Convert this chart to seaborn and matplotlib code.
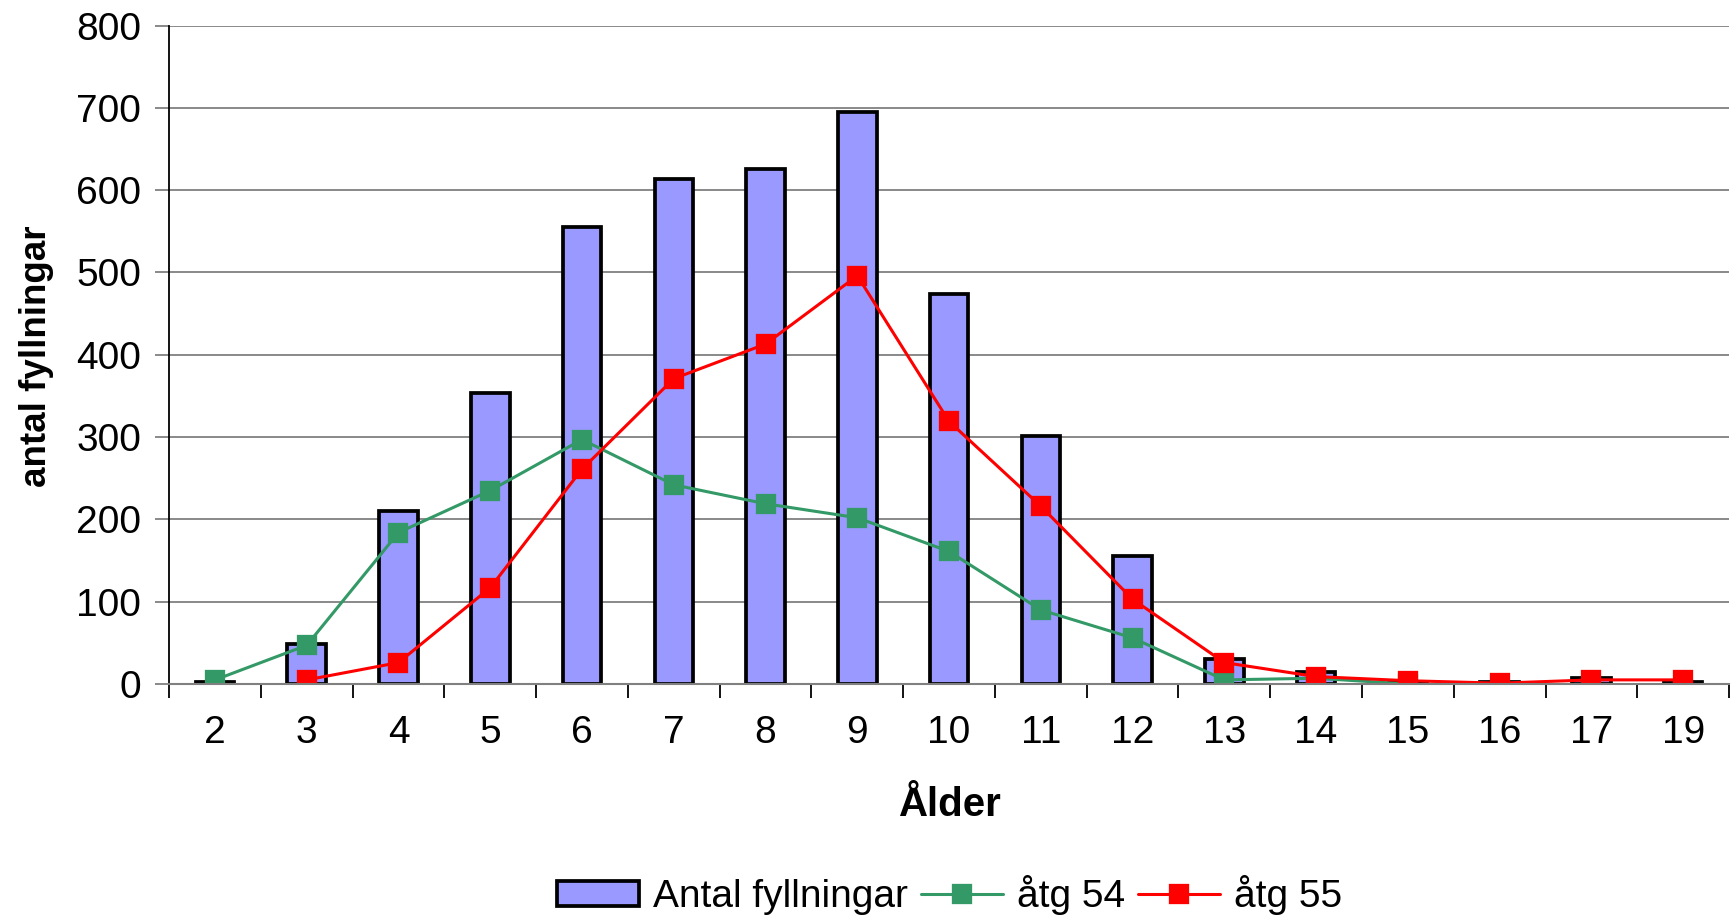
import matplotlib
matplotlib.use("Agg")
import matplotlib.pyplot as plt
import seaborn as sns
import pandas as pd

ages = ["2", "3", "4", "5", "6", "7", "8", "9", "10", "11", "12", "13", "14", "15", "16", "17", "19"]
antal = [3, 48, 210, 353, 555, 614, 626, 695, 474, 301, 156, 30, 14, 3, 3, 7, 3]
atg54_ages = ["2", "3", "4", "5", "6", "7", "8", "9", "10", "11", "12", "13", "14", "15"]
atg54 = [5, 47, 184, 235, 297, 242, 219, 202, 161, 90, 56, 5, 7, 0]
atg55_ages = ["3", "4", "5", "6", "7", "8", "9", "10", "11", "12", "13", "14", "15", "16", "17", "19"]
atg55 = [5, 26, 117, 261, 371, 413, 496, 319, 216, 103, 26, 9, 4, 1, 5, 5]
yticks = [0, 100, 200, 300, 400, 500, 600, 700, 800]

sns.set_theme(style="white")
plt.rcParams['font.family'] = ['Liberation Sans', 'DejaVu Sans']
plt.rcParams['text.color'] = 'black'
plt.rcParams['axes.labelcolor'] = 'black'
plt.rcParams['xtick.color'] = 'black'
plt.rcParams['ytick.color'] = 'black'

fig = plt.figure(figsize=(17.36, 9.18), dpi=100)
ax = fig.add_axes([0.0974, 0.2549, 0.8986, 0.7173])

df_bar = pd.DataFrame({"age": ages, "n": antal})
df54 = pd.DataFrame({"age": atg54_ages, "v": atg54})
df55 = pd.DataFrame({"age": atg55_ages, "v": atg55})

sns.barplot(data=df_bar, x="age", y="n", order=ages, color="#9999FF", saturation=1,
            width=0.42, edgecolor="black", linewidth=2.7, ax=ax, label="Antal fyllningar", zorder=2)
sns.pointplot(data=df54, x="age", y="v", order=ages, color="#339966", markers="s",
              markersize=13.5, linewidth=2.2, errorbar=None, ax=ax, label="åtg 54")
sns.pointplot(data=df55, x="age", y="v", order=ages, color="#FF0000", markers="s",
              markersize=13.5, linewidth=2.2, errorbar=None, ax=ax, label="åtg 55")

ax.set_xlim(-0.5, len(ages) - 0.5)
ax.set_ylim(0, 800)
ax.set_yticks(yticks)
ax.set_yticklabels([str(t) for t in yticks])
ax.yaxis.grid(True, color="#808080", linewidth=1.3, zorder=0)
ax.set_axisbelow(True)
ax.xaxis.grid(False)

for s in ["top", "right"]:
    ax.spines[s].set_visible(False)
ax.spines["left"].set_color("black")
ax.spines["left"].set_linewidth(1.3)
ax.spines["bottom"].set_color("#808080")
ax.spines["bottom"].set_linewidth(1.5)

ax.tick_params(axis="y", which="major", direction="out", length=10, width=1.3,
               color="#808080", left=True, pad=10, labelsize=28, labelcolor="black")
ax.tick_params(axis="x", which="major", length=0, pad=22, labelsize=28, labelcolor="black")
ax.set_xticks([i - 0.5 for i in range(len(ages) + 1)], minor=True)
ax.tick_params(axis="x", which="minor", direction="out", length=10, width=1.3,
               color="black", bottom=True)

ax.set_xlabel("Ålder", fontsize=29, fontweight="bold")
ax.xaxis.set_label_coords(0.5, -0.155)
ax.set_ylabel("antal fyllningar", fontsize=26.5, fontweight="bold")
ax.yaxis.set_label_coords(-0.074, 0.497)

handles, labels = ax.get_legend_handles_labels()
order = [labels.index("Antal fyllningar"), labels.index("åtg 54"), labels.index("åtg 55")]
handles = [handles[i] for i in order]
labels = [labels[i] for i in order]
leg = fig.legend(handles, labels, loc="center", bbox_to_anchor=(0.547, 0.025), ncol=3,
                 frameon=False, fontsize=28, handlelength=2.1, handleheight=0.6,
                 columnspacing=0.35, handletextpad=0.35)
if ax.get_legend() is not None:
    ax.get_legend().remove()

fig.savefig("out.png", dpi=100)
